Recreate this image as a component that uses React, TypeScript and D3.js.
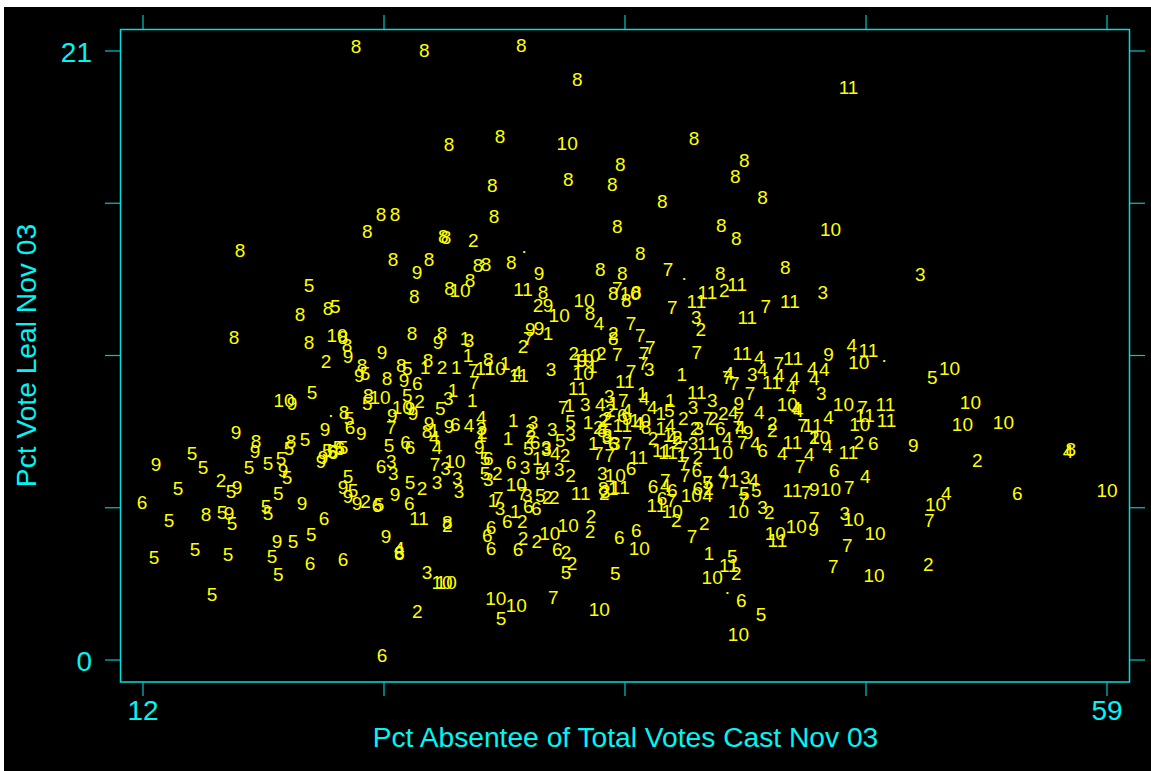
import React from "react";
import * as d3 from "d3";

type P = [number, number];

const xTitle = "Pct Absentee of Total Votes Cast Nov 03";
const yTitle = "Pct Vote Leal Nov 03";
const xLabels = [12, 59];
const yLabels = [0, 21];
const xTicks = [12, 23.75, 35.5, 47.25, 59];
const yTicks = [0, 5.25, 10.5, 15.75, 21];

const ward1: P[] = [[31.75,11.28],[27.7,11.1],[25.76,10.1],[27.27,10.1],[27.85,10.52],[29.66,10.24],[33.9,10.14],[27.12,9.31],[28.05,8.97],[32.8,8.79],[38.27,9.86],[36.34,9.21],[37.71,8.97],[37.24,8.52],[30.05,8.28],[29.8,7.66],[33.95,7.48],[28.49,7.76],[26.2,7.93],[33.7,8.21],[31.22,6.97],[37.24,8],[34.93,8.86],[37.6,7.76],[38.27,7.07],[40.8,6.21],[34.93,5.93],[29.07,5.52],[30.15,5.14],[39.6,3.69]];
const ward2: P[] = [[28.1,14.48],[31.26,12.24],[40.34,12.76],[39.2,11.41],[34.93,11.28],[30.53,10.83],[20.93,10.31],[26.58,10.1],[33,10.59],[34.34,10.59],[25.48,8.93],[34.78,8.62],[34.63,8.34],[34.44,8.28],[34.2,8.03],[30.88,7.93],[30.92,7.72],[28.54,7.86],[32.58,7.07],[38.34,8.34],[39.8,8.34],[40.29,8.52],[38.92,8],[42.68,8.17],[42.68,7.93],[36.87,7.66],[38.05,7.69],[38.05,7.52],[44.73,7.69],[46.9,7.52],[39.05,7],[15.8,6.21],[22.85,5.48],[25.61,5.93],[29.27,6.45],[32.85,6.38],[31.71,5.62],[32.05,5.62],[34.49,5.76],[39.57,5.93],[38,4.83],[39.37,4.72],[42.54,5.1],[33.85,4.97],[33.8,4.45],[30.49,4.79],[26.83,4.66],[30.53,4.21],[31.2,4.1],[32.63,3.72],[32.92,3.34],[40.93,3],[52.67,6.9],[50.29,3.31],[25.37,1.69]];
const ward3: P[] = [[49.9,13.31],[45.14,12.69],[38.98,11.83],[27.9,11.03],[31.9,10.03],[36.68,10.03],[41.71,9.86],[26.88,9.03],[45.07,9.21],[34.73,9.1],[33.56,8.83],[38.82,8.72],[39.75,8.97],[39.1,8],[32.85,7.79],[31.95,7.97],[31.02,8.21],[28.49,8],[31.66,7.34],[31.66,7.28],[24.1,6.86],[24.2,6.45],[26.75,6.62],[26.34,6.14],[27.32,6.28],[27.41,5.83],[28.83,6.24],[30.63,6.66],[32.3,6.59],[34.39,6.45],[34.54,5.83],[35.03,7.48],[34.63,7.69],[38.82,7.48],[41.37,6.31],[29.41,5.24],[30.73,5.69],[42.2,5.28],[46.22,5.07],[25.85,3.03]];
const ward4: P[] = [[34.24,11.62],[46.56,10.86],[42.05,10.45],[42.2,10.03],[40.56,9.9],[43.02,9.83],[43.76,9.72],[43.61,9.41],[44.63,10.07],[45.22,10.03],[44.73,9.72],[30.24,9.93],[28.49,8.38],[27.9,8.1],[26.2,7.69],[26.34,7.34],[34.29,8.83],[36.44,9.03],[36.83,8.72],[42.05,8.55],[43.95,8.62],[43.85,8.69],[40.78,8.55],[35.6,8.62],[36.15,8.17],[37.71,8.1],[37.8,7.69],[40.49,7.66],[41.12,8.03],[41.86,7.48],[43.17,7.14],[44.49,7.1],[45.37,7.38],[45.42,8.38],[32.1,7.14],[31.61,6.62],[40.29,6.48],[41.78,6.21],[37.47,6.03],[39.52,5.69],[47.22,6.34],[51.17,5.76],[57.1,7.21],[24.49,3.86]];
const ward5: P[] = [[20.1,12.93],[21.37,12.21],[24.88,10.07],[22.83,9.9],[20.24,9.24],[22.93,8.86],[24.88,9.14],[22.05,8.34],[26.49,8.69],[19.12,7.31],[19.9,7.62],[14.39,7.14],[14.93,6.66],[17.17,6.66],[18.1,6.79],[18.73,6.97],[19.02,6.31],[16.29,5.83],[13.71,5.93],[13.27,4.83],[15.85,5.1],[16.34,4.72],[18.59,5.76],[18,5.29],[18.1,5.07],[20.2,4.34],[20.98,7.24],[21.22,7.21],[21.51,7.34],[21.75,7.34],[24,7.41],[22,6.34],[22.24,5.86],[23.51,5.38],[25.02,6.14],[12.54,3.55],[14.54,3.83],[16.15,3.66],[18.29,3.59],[19.32,4.1],[18.59,2.97],[15.37,2.28],[32.85,8.24],[32.34,7.59],[30.78,7.31],[28.68,6.45],[28.68,6.97],[31.37,6.45],[31.37,5.69],[32.63,3.03],[35.03,3],[29.46,1.45],[37.66,8.62],[41.32,5.76],[41.9,5.86],[39.52,6.14],[40.73,3.59],[42.13,1.59],[50.48,9.76]];
const ward6: P[] = [[25.37,9.55],[22.1,8.03],[23.61,6.69],[24.8,7.52],[25.02,7.34],[21.27,7.17],[21.6,7.31],[11.95,5.45],[20.83,4.9],[23.41,5.34],[24.98,5.41],[20.15,3.34],[21.75,3.48],[23.66,0.17],[24.49,3.72],[27.22,8.14],[28.83,6.97],[29.95,6.83],[31.12,7.52],[34.93,7.48],[35.8,6.62],[40.15,8],[35.37,8.45],[42.2,7.24],[39,6.55],[36.87,6],[37.8,5.86],[37.3,5.59],[39.05,5.93],[30.78,5.31],[31.17,5.24],[29.76,4.79],[28.97,4.59],[28.78,4.31],[28.97,3.86],[30.29,3.83],[32.2,3.83],[36.05,4.48],[35.22,4.24],[47.6,7.48],[45.71,6.55],[54.63,5.76],[41.17,2.07]];
const ward7: P[] = [[37.6,13.48],[35.13,12.83],[37.8,12.17],[42.37,12.21],[35.8,11.62],[36.24,11.21],[36.73,10.79],[36.44,10.59],[35.13,10.55],[39,10.62],[36.39,10.24],[35.8,9.97],[30.78,11.1],[28.1,10],[28.15,9.59],[40.49,9.76],[40.83,9.55],[43,10.24],[41.6,9.21],[35.42,8.97],[32.49,8.72],[47.08,8.72],[44.15,8.1],[39.55,8.34],[41.05,8.34],[41,8.03],[41.22,7.52],[35.6,7.48],[38.34,7.34],[34.76,7.07],[24.1,8.03],[26.24,6.76],[38.4,6.79],[38.44,6.38],[40.34,6.14],[37.47,6.21],[37.76,5.52],[39.52,6.14],[41.27,5.52],[29.32,5.59],[30.49,5.76],[38.77,4.28],[44.05,6.69],[44.34,5.79],[46.44,5.97],[44.73,4.9],[50.34,4.83],[46.34,3.97],[45.66,3.24],[32,2.17],[34.2,7.14]];
const ward8: P[] = [[22.39,21.17],[25.71,21.03],[30.44,21.21],[33.17,20.03],[29.41,18.07],[26.92,17.79],[38.87,18],[35.27,17.1],[41.32,17.24],[40.88,16.69],[32.73,16.59],[34.88,16.41],[29.03,16.38],[42.2,15.97],[37.32,15.83],[23.61,15.38],[24.29,15.38],[29.12,15.31],[22.93,14.79],[35.13,14.97],[40.2,15],[40.93,14.55],[26.64,14.62],[26.78,14.59],[16.73,14.14],[36.24,14.03],[24.19,13.83],[25.95,13.83],[29.95,13.72],[28.34,13.62],[28.73,13.66],[43.32,13.55],[34.29,13.48],[35.37,13.34],[40.15,13.34],[27.95,13.1],[26.95,12.83],[25.23,12.55],[31.51,12.69],[34.93,12.66],[36.05,12.69],[35.56,12.41],[33.8,11.97],[21.02,12.14],[19.66,11.93],[25.12,11.28],[26.58,11.28],[20.1,10.97],[16.44,11.14],[21.75,11.14],[21.95,10.86],[34.93,11.1],[22.68,10.17],[24.59,10.17],[23.9,9.72],[25.9,10.34],[28.83,10.38],[22.98,9.14],[21.8,8.55],[17.51,7.55],[19.22,7.55],[15.07,5.03],[24.49,3.69],[57.24,7.28],[36.53,8.03],[34.39,7.93],[25.85,7.9],[34.63,7.76],[34.44,5.93],[26.83,4.76]];
const ward9: P[] = [[25.36,13.38],[31.31,13.34],[31.75,12.24],[26.39,10.97],[30.88,11.41],[31.31,11.45],[22,10.48],[23.66,10.62],[22.54,9.83],[24.73,9.66],[33.41,10.34],[45.42,10.55],[19.27,8.86],[25.02,8.69],[25.17,8.52],[24.15,8.45],[20.88,7.97],[22.64,7.83],[16.54,7.86],[17.46,7.21],[18.83,6.55],[20.78,7],[20.68,6.86],[12.63,6.76],[16.59,5.97],[16.2,5.07],[19.75,5.41],[21.75,5.97],[22,5.66],[22.44,5.41],[24.29,5.72],[25.95,8.17],[26.92,8.07],[28.39,7.34],[41.05,8.86],[41.5,7.86],[35.6,8.34],[49.55,7.41],[44.73,5.9],[44.69,4.52],[18.53,4.1],[23.85,4.28]];
const ward10: P[] = [[32.68,17.83],[45.52,14.86],[27.46,12.76],[33.5,12.41],[35.76,12.66],[32.29,11.9],[21.46,11.21],[33.8,10.52],[33.46,10.34],[33.46,9.9],[29.17,10.07],[18.88,8.97],[23.56,9.07],[24.64,8.72],[43.41,8.83],[46.15,8.83],[51.32,10.07],[46.9,10.28],[52.34,8.9],[51.95,8.14],[53.95,8.21],[46.95,8.14],[45,7.69],[36.24,8.28],[40.25,7.17],[27.2,6.86],[30.2,6.07],[35.03,6.38],[38.73,5.69],[41.03,5.14],[59,5.86],[50.64,5.38],[45.52,5.9],[46.64,4.86],[43.85,4.62],[42.83,4.38],[47.69,4.38],[32.73,4.66],[31.83,4.38],[36.2,3.86],[39.75,2.86],[47.64,2.93],[26.58,2.69],[26.78,2.69],[29.2,2.14],[30.2,1.9],[34.25,1.76],[41.03,0.9],[37.8,5.14]];
const ward11: P[] = [[46.4,19.76],[40.97,12.97],[39.52,12.69],[38.98,12.38],[43.54,12.38],[41.46,11.83],[30.53,12.79],[41.22,10.59],[43.7,10.41],[47.37,10.69],[35.49,9.62],[33.2,9.38],[42.66,9.59],[39,9.24],[28.68,10.07],[48.2,8.83],[47.2,8.45],[48.25,8.28],[44.65,8.1],[43.66,7.52],[46.39,7.17],[35.37,8.1],[39.52,7.48],[36.15,7],[37.6,7.17],[43.66,5.86],[35.25,5.97],[33.34,5.76],[37.03,5.34],[25.46,4.9],[42.93,4.14],[40.56,3.28],[30.33,9.83],[37.3,7.24]];
const wardDot: P[] = [[30.58,14.28],[38.38,13.34],[48.13,10.52],[40.49,2.52],[21.16,8.62]];

const wards: [string, P[]][] = [
  ["1", ward1], ["2", ward2], ["3", ward3], ["4", ward4], ["5", ward5], ["6", ward6],
  ["7", ward7], ["8", ward8], ["9", ward9], ["10", ward10], ["11", ward11], [".", wardDot],
];

const W = 1151, H = 771;
const CYAN = "#00f5f5";
const TEAL = "#00c8c8";
const YELLOW = "#ffff00";
const FONT = '"Liberation Sans", Arial, sans-serif';

export default function App() {
  const x = d3.scaleLinear().domain([12, 59]).range([143, 1107]);
  const y = d3.scaleLinear().domain([0, 21]).range([660, 51]);
  return (
    <svg width={W} height={H} style={{ position: "absolute", left: 0, top: 0, background: "#fff" }} fontFamily={FONT}>
      <rect x={4} y={7} width={W - 4} height={H - 7} fill="#000" />
      <rect x={120.5} y={29.5} width={1009} height={652.5} fill="none" stroke="#00e0e0" strokeWidth={1.5} />
      {xTicks.map((t) => (
        <g key={t} stroke={TEAL} strokeWidth={1.2}>
          <line x1={x(t)} x2={x(t)} y1={15} y2={29} />
          <line x1={x(t)} x2={x(t)} y1={682} y2={696} />
        </g>
      ))}
      {yTicks.map((t) => (
        <g key={t} stroke={TEAL} strokeWidth={1.2}>
          <line x1={105} x2={120} y1={y(t)} y2={y(t)} />
          <line x1={1130} x2={1145} y1={y(t)} y2={y(t)} />
        </g>
      ))}
      {xLabels.map((t) => (
        <text key={t} x={x(t)} y={720} fill={CYAN} fontSize={28} textAnchor="middle">{t}</text>
      ))}
      {yLabels.map((t) => (
        <text key={t} x={92} y={y(t) + 11} fill={CYAN} fontSize={28} textAnchor="end">{t}</text>
      ))}
      <text x={625.5} y={747} fill={CYAN} fontSize={28.2} textAnchor="middle">{xTitle}</text>
      <text transform={`translate(35.5,355.5) rotate(-90)`} fill={CYAN} fontSize={28.2} textAnchor="middle">{yTitle}</text>
      {wards.map(([label, pts]) =>
        pts.map((p, i) => (
          <text key={label + i} x={x(p[0])} y={y(p[1])} dy="0.35em" fill={YELLOW} fontSize={19} textAnchor="middle">{label}</text>
        ))
      )}
    </svg>
  );
}
